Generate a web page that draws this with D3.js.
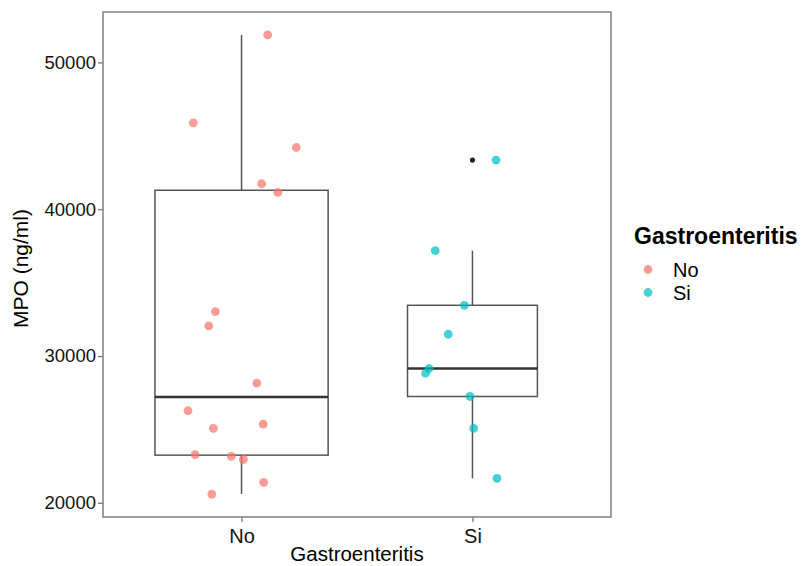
<!DOCTYPE html>
<html>
<head>
<meta charset="utf-8">
<script src="https://cdn.jsdelivr.net/npm/d3@7"></script>
<style>
  html, body { margin: 0; padding: 0; background: #fff; }
  svg text { font-family: "Liberation Sans", Arial, sans-serif; }
</style>
</head>
<body>
<svg id="chart" width="804" height="566"></svg>
<script>
// ---- data ----
const categories = ["No", "Si"];
const colors = ["#F8766D", "#00BFC4"];
const noValues = [51871, 45884, 44204, 41735, 41143, 33027, 32054, 28150, 26272, 25361, 25068, 23279, 23163, 22959, 21395, 20599];
const noJitter = [0.113, -0.209, 0.237, 0.087, 0.157, -0.113, -0.142, 0.066, -0.232, 0.094, -0.122, -0.201, -0.044, 0.008, 0.096, -0.129];
const siValues = [43347, 37177, 33456, 31483, 29150, 28830, 27245, 25068, 21667];
const siJitter = [0.102, -0.161, -0.035, -0.105, -0.188, -0.203, -0.011, 0.005, 0.106];
const yTicks = [20000, 30000, 40000, 50000];
const xTitle = "Gastroenteritis";
const yTitle = "MPO (ng/ml)";
const legendTitle = "Gastroenteritis";

const groups = [
  { key: categories[0], values: noValues, jitter: noJitter, color: colors[0] },
  { key: categories[1], values: siValues, jitter: siJitter, color: colors[1] }
];

// ---- layout ----
const panel = { left: 103, right: 611, top: 12, bottom: 517 };
const svg = d3.select("#chart");

const allVals = groups.flatMap(g => g.values);
const [vmin, vmax] = d3.extent(allVals);
const pad = (vmax - vmin) * 0.05;
const y = d3.scaleLinear().domain([vmin - pad, vmax + pad]).range([panel.bottom, panel.top]);
const x = d3.scalePoint().domain(categories).range([panel.left, panel.right]).padding(0.6);
const step = x.step();

// ---- box stats ----
const maxN = d3.max(groups, g => Math.sqrt(g.values.length));
groups.forEach(g => {
  const s = g.values.slice().sort(d3.ascending);
  const q1 = d3.quantile(s, 0.25), med = d3.quantile(s, 0.5), q3 = d3.quantile(s, 0.75);
  const iqr = q3 - q1;
  const lo = d3.min(s.filter(v => v >= q1 - 1.5 * iqr));
  const hi = d3.max(s.filter(v => v <= q3 + 1.5 * iqr));
  g.stats = { q1, med, q3, lo, hi, out: s.filter(v => v < lo || v > hi) };
  g.halfW = 0.75 * step * Math.sqrt(g.values.length) / maxN / 2;
});

// panel background
svg.append("rect").attr("x", panel.left).attr("y", panel.top)
  .attr("width", panel.right - panel.left).attr("height", panel.bottom - panel.top)
  .attr("fill", "#fff");

// boxplots
const boxColor = "#555555";
const bx = svg.append("g");
groups.forEach(g => {
  const cx = x(g.key), st = g.stats;
  bx.append("line").attr("x1", cx).attr("x2", cx).attr("y1", y(st.q3)).attr("y2", y(st.hi))
    .attr("stroke", boxColor).attr("stroke-width", 1.5);
  bx.append("line").attr("x1", cx).attr("x2", cx).attr("y1", y(st.q1)).attr("y2", y(st.lo))
    .attr("stroke", boxColor).attr("stroke-width", 1.5);
  bx.append("rect").attr("x", cx - g.halfW).attr("width", 2 * g.halfW)
    .attr("y", y(st.q3)).attr("height", y(st.q1) - y(st.q3))
    .attr("fill", "#fff").attr("stroke", boxColor).attr("stroke-width", 1.5);
  bx.append("line").attr("x1", cx - g.halfW).attr("x2", cx + g.halfW)
    .attr("y1", y(st.med)).attr("y2", y(st.med))
    .attr("stroke", "#333333").attr("stroke-width", 2.7);
  st.out.forEach(v => {
    bx.append("circle").attr("cx", cx).attr("cy", y(v)).attr("r", 2.6).attr("fill", "#222");
  });
});

// jittered points
const pts = svg.append("g");
groups.forEach(g => {
  pts.selectAll(null).data(g.values).join("circle")
    .attr("cx", (d, i) => x(g.key) + g.jitter[i] * step)
    .attr("cy", d => y(d))
    .attr("r", 4.4)
    .attr("fill", g.color)
    .attr("fill-opacity", 0.72);
});

// panel border
svg.append("rect").attr("x", panel.left).attr("y", panel.top)
  .attr("width", panel.right - panel.left).attr("height", panel.bottom - panel.top)
  .attr("fill", "none").attr("stroke", "#777").attr("stroke-width", 1.4);

// axes
const yAxis = svg.append("g").attr("transform", `translate(${panel.left},0)`)
  .call(d3.axisLeft(y).tickValues(yTicks).tickFormat(d3.format("d")).tickSize(5).tickPadding(2));
const xAxis = svg.append("g").attr("transform", `translate(0,${panel.bottom})`)
  .call(d3.axisBottom(x).tickSize(5).tickPadding(3));
[yAxis, xAxis].forEach(a => {
  a.select(".domain").remove();
  a.selectAll(".tick line").attr("stroke", "#777").attr("stroke-width", 1.3);
  a.selectAll(".tick text").attr("fill", "#111")
    .style("font-family", "'Liberation Sans', Arial, sans-serif");
});
yAxis.selectAll(".tick text").style("font-size", "18.5px");
xAxis.selectAll(".tick text").style("font-size", "20px").attr("dy", "0.9em");

// axis titles
svg.append("text").attr("x", (panel.left + panel.right) / 2).attr("y", 561)
  .attr("text-anchor", "middle").style("font-size", "20.5px").attr("fill", "#000").text(xTitle);
svg.append("text").attr("transform", `translate(28,${(panel.top + panel.bottom) / 2 + 4}) rotate(-90)`)
  .attr("text-anchor", "middle").style("font-size", "21px").attr("fill", "#000").text(yTitle);

// legend
const lg = svg.append("g");
lg.append("text").attr("x", 634).attr("y", 244).style("font-size", "23px")
  .style("font-weight", "bold").attr("fill", "#000").text(legendTitle);
groups.forEach((g, i) => {
  const cy = 269.5 + i * 23;
  lg.append("circle").attr("cx", 648).attr("cy", cy).attr("r", 4.4)
    .attr("fill", g.color).attr("fill-opacity", 0.72);
  lg.append("text").attr("x", 673).attr("y", cy).attr("dy", "0.36em")
    .style("font-size", "20px").attr("fill", "#000").text(g.key);
});
</script>
</body>
</html>
